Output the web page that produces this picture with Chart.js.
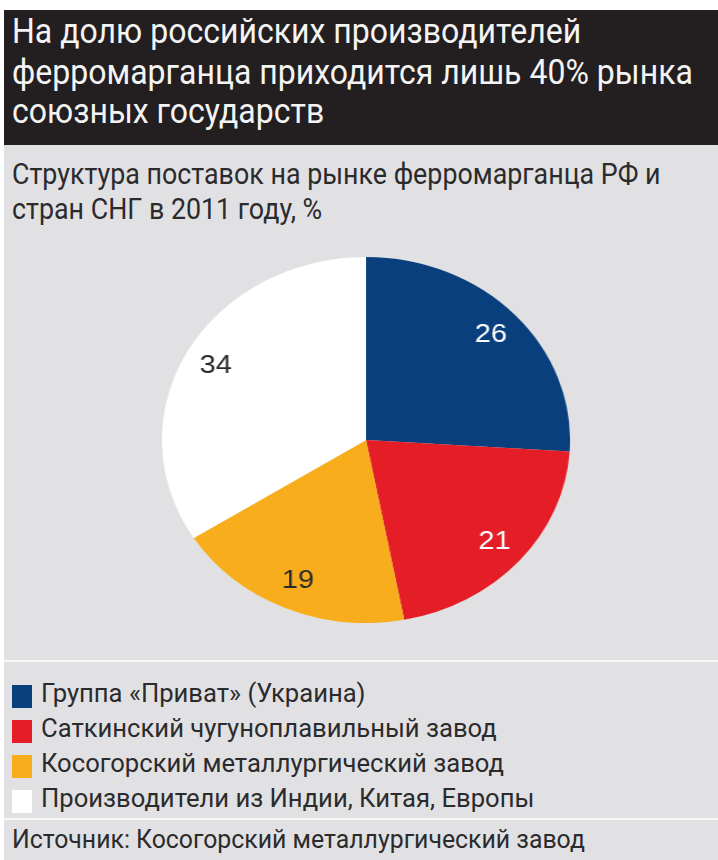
<!DOCTYPE html>
<html lang="ru">
<head>
<meta charset="utf-8">
<script src="https://cdn.jsdelivr.net/npm/chart.js@4/dist/chart.umd.min.js"></script>
<style>
  html, body { margin: 0; padding: 0; background: #fff; }
  #frame {
    position: absolute; left: 4px; top: 10px; width: 714px; height: 850px;
    background: #e1e1e3; overflow: hidden;
    font-family: "Roboto", "DejaVu Sans Condensed", sans-serif;
  }
  #header {
    position: absolute; left: 0; top: 0; width: 714px; height: 135px;
    background: #231f20; color: #f4f4f4;
  }
  .hline {
    position: absolute; left: 8px; font-size: 35px; line-height: 1;
    white-space: nowrap; transform-origin: left top; transform: scaleX(0.915);
  }
  .sub {
    position: absolute; left: 8px; font-size: 29px; line-height: 1; color: #2b2b2d;
    white-space: nowrap; transform-origin: left top; transform: scaleX(0.925);
  }
  #pieWrap {
    position: absolute; left: 179px; top: 247px; width: 366px; height: 366px;
    transform: scaleX(1.115); transform-origin: center center;
  }
  .rule { position: absolute; left: 0; width: 714px; height: 2px; background: #f7f7f7; }
  #legend { position: absolute; left: 8px; top: 668px; }
  .item { position: relative; height: 35px; }
  .swatch { position: absolute; left: 0; top: 7px; width: 20px; height: 23px; }
  .ltext {
    position: absolute; left: 29px; top: 2px; font-size: 26px; line-height: 1; color: #2b2b2d;
    white-space: nowrap; transform-origin: left top; transform: scaleX(0.985);
  }
  #source {
    position: absolute; left: 8px; top: 816px; font-size: 26px; line-height: 1; color: #2b2b2d;
    white-space: nowrap; transform-origin: left top; transform: scaleX(0.955);
  }
</style>
</head>
<body>
<div id="frame">
  <div id="header">
    <div class="hline" style="top:4px">На долю российских производителей</div>
    <div class="hline" style="top:45px">ферромарганца приходится лишь 40% рынка</div>
    <div class="hline" style="top:84px">союзных государств</div>
  </div>
  <div class="sub" style="top:150px">Структура поставок на рынке ферромарганца РФ и</div>
  <div class="sub" style="top:185px">стран СНГ в 2011 году, %</div>
  <div id="pieWrap"><canvas id="pie"></canvas></div>
  <div class="rule" style="top:650px"></div>
  <div id="legend"></div>
  <div class="rule" style="top:808px"></div>
  <div id="source">Источник: Косогорский металлургический завод</div>
</div>
<script>
// Data
const labels = [
  'Группа «Приват» (Украина)',
  'Саткинский чугуноплавильный завод',
  'Косогорский металлургический завод',
  'Производители из Индии, Китая, Европы'
];
const shares = [26, 21, 19, 34];
const colors = ['#0a3f7e', '#e41d26', '#f8ad1d', '#ffffff'];
const labelColors = ['#ffffff', '#ffffff', '#2a2a2a', '#2a2a2a'];

// Value labels drawn inside each slice
const sliceLabels = {
  id: 'sliceLabels',
  afterDatasetsDraw(chart) {
    const ctx = chart.ctx;
    const meta = chart.getDatasetMeta(0);
    ctx.save();
    ctx.font = '26px "Liberation Sans", Arial, sans-serif';
    ctx.textAlign = 'center';
    ctx.textBaseline = 'middle';
    meta.data.forEach((arc, i) => {
      const p = arc.getProps(['x', 'y', 'startAngle', 'endAngle', 'outerRadius'], true);
      const mid = (p.startAngle + p.endAngle) / 2;
      const r = p.outerRadius * 0.84;
      ctx.fillStyle = labelColors[i];
      ctx.fillText(String(shares[i]), p.x + Math.cos(mid) * r, p.y + Math.sin(mid) * r);
    });
    ctx.restore();
  }
};

new Chart(document.getElementById('pie'), {
  type: 'pie',
  data: {
    labels: labels,
    datasets: [{
      data: shares,
      backgroundColor: colors,
      borderWidth: 0,
      hoverOffset: 0
    }]
  },
  options: {
    responsive: true,
    maintainAspectRatio: true,
    aspectRatio: 1,
    animation: false,
    layout: { padding: 0 },
    plugins: {
      legend: { display: false },
      tooltip: { enabled: false }
    }
  },
  plugins: [sliceLabels]
});

// HTML legend built from the same arrays
const legend = document.getElementById('legend');
legend.innerHTML = labels.map((l, i) => `
  <div class="item">
    <div class="swatch" style="background:${colors[i]}"></div>
    <div class="ltext">${l}</div>
  </div>
`).join('');
</script>
</body>
</html>
